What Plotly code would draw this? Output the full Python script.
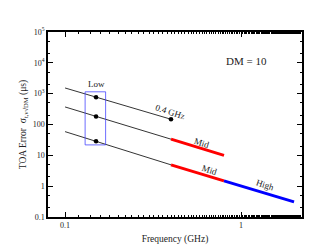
import numpy as np
import plotly.graph_objects as go

# Data
freq_low = [0.1, 0.4]
err_top = [1530, 148]
err_mid = [371, 33.4]
err_bot = [58.7, 4.92]

freq_mid = [0.4, 0.8]
err_mid_red = [33.4, 10.0]
err_bot_red = [4.92, 1.48]

freq_high = [0.8, 2.0]
err_bot_blue = [1.48, 0.31]

dot_freq = [0.15, 0.15, 0.15, 0.4]
dot_err = [770, 183, 28.5, 148]

box_freq = [0.13, 0.17, 0.17, 0.13, 0.13]
box_err = [21.8, 21.8, 1150, 1150, 21.8]

ytick_vals = [0.1, 1, 10, 100, 1000, 10000, 100000]
ytick_text = ["0.1", "1", "10", "100", "10<sup>3</sup>", "10<sup>4</sup>", "10<sup>5</sup>"]
xtick_vals = [0.1, 1]
xtick_text = ["0.1", "1"]

FONT = "Liberation Serif"
TXT = "#222"

fig = go.Figure()
for e in (err_top, err_mid, err_bot):
    fig.add_trace(go.Scatter(x=freq_low, y=e, mode="lines",
                             line=dict(color="black", width=0.8), showlegend=False))
for e in (err_mid_red, err_bot_red):
    fig.add_trace(go.Scatter(x=freq_mid, y=e, mode="lines",
                             line=dict(color="#ff0000", width=3), showlegend=False))
fig.add_trace(go.Scatter(x=freq_high, y=err_bot_blue, mode="lines",
                         line=dict(color="#0000ff", width=3), showlegend=False))
fig.add_trace(go.Scatter(x=box_freq, y=box_err, mode="lines",
                         line=dict(color="rgba(60,60,255,0.75)", width=1), showlegend=False))
fig.add_trace(go.Scatter(x=dot_freq, y=dot_err, mode="markers",
                         marker=dict(color="black", size=4.5), showlegend=False))

ann = []
def a(x, y, text, angle=0, size=9, **kw):
    ann.append(dict(x=np.log10(x), y=np.log10(y), text=text, textangle=angle,
                    showarrow=False, font=dict(family=FONT, size=size, color=TXT), **kw))
a(0.15, 1150, "Low", yanchor="bottom", yshift=1)
a(0.398, 10**2.415, "0.4 GHz", angle=18)
a(0.598, 10**1.40, "Mid", angle=18)
a(0.665, 10**0.538, "Mid", angle=18)
a(1.37, 10**0.046, "High", angle=18)
a(1.07, 10**4.046, "DM = 10", size=11)

axis_common = dict(type="log", showgrid=False, zeroline=False, showline=True,
                   linecolor="black", linewidth=1.5, mirror="ticks",
                   ticks="inside", ticklen=5, tickcolor="black", tickwidth=0.8,
                   tickfont=dict(family=FONT, size=8, color=TXT),
                   minor=dict(ticks="inside", ticklen=2.5, tickcolor="black",
                              tickwidth=0.6, showgrid=False))

fig.update_xaxes(**axis_common, range=[np.log10(0.08), np.log10(2.22)],
                 tickvals=xtick_vals, ticktext=xtick_text,
                 title=dict(text="Frequency (GHz)", font=dict(family=FONT, size=9.5, color=TXT),
                            standoff=6))
fig.update_yaxes(**axis_common, range=[-1, 5],
                 tickvals=ytick_vals, ticktext=ytick_text,
                 title=dict(text="TOA Error  σ<sub>t,ν√DM</sub> (μs)",
                            font=dict(family=FONT, size=9.5, color=TXT), standoff=4))

fig.update_layout(width=327, height=247, margin=dict(l=40, r=33, t=24, b=28),
                  plot_bgcolor="white", paper_bgcolor="white", annotations=ann)

fig.write_html("out.html")
